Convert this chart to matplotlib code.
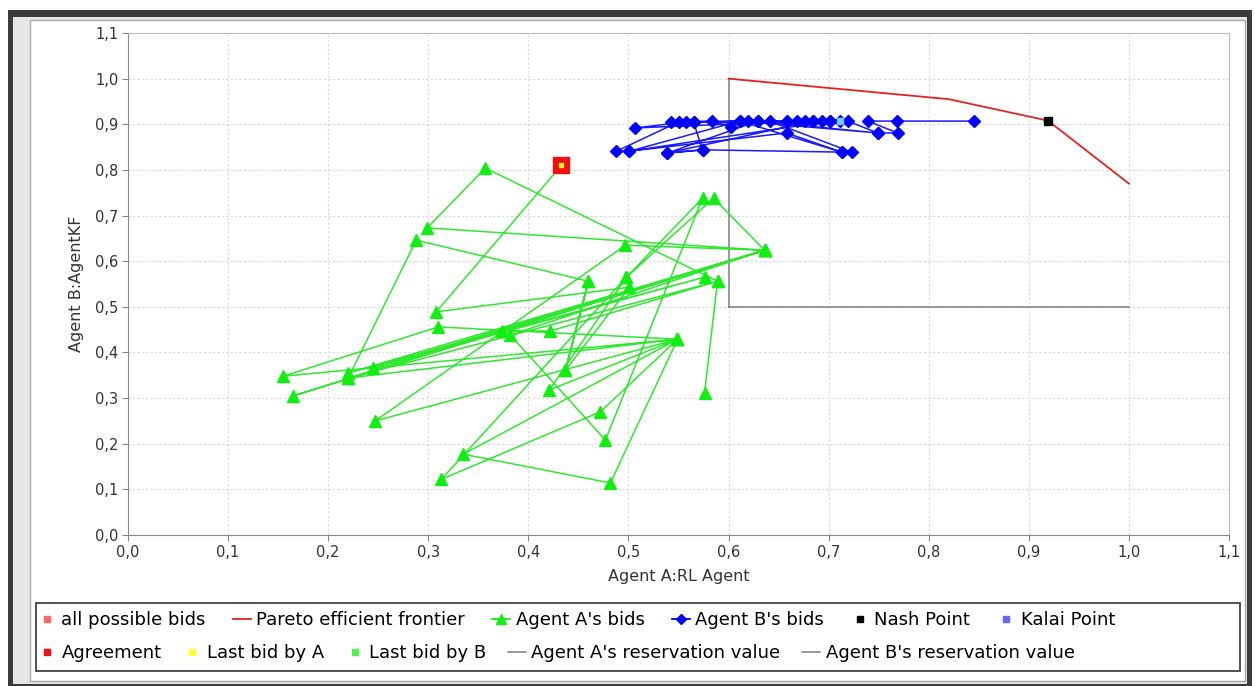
import matplotlib.pyplot as plt
from matplotlib.lines import Line2D
from matplotlib.patches import Rectangle
from matplotlib.ticker import FixedLocator, FixedFormatter

W, H = 1255, 686

# Agent A's bids (in order of the offers)
a_x = [0.576, 0.589, 0.357, 0.299, 0.636, 0.220, 0.576, 0.245, 0.636, 0.497,
       0.247, 0.549, 0.310, 0.155, 0.549, 0.335, 0.482, 0.549, 0.472, 0.313,
       0.498, 0.585, 0.636, 0.374, 0.422, 0.589, 0.220, 0.636, 0.165, 0.636,
       0.382, 0.477, 0.574, 0.498, 0.421, 0.549, 0.220, 0.288, 0.460, 0.437,
       0.460, 0.437, 0.501, 0.308, 0.433]
a_y = [0.311, 0.556, 0.804, 0.673, 0.624, 0.355, 0.565, 0.366, 0.624, 0.635,
       0.250, 0.429, 0.456, 0.348, 0.429, 0.177, 0.114, 0.429, 0.270, 0.122,
       0.565, 0.738, 0.624, 0.447, 0.447, 0.556, 0.344, 0.624, 0.305, 0.624,
       0.438, 0.208, 0.738, 0.565, 0.318, 0.429, 0.344, 0.646, 0.556, 0.361,
       0.556, 0.361, 0.543, 0.489, 0.810]

# Agent B's bids
b_x = [0.845, 0.768, 0.739, 0.769, 0.749, 0.719, 0.711, 0.701, 0.693, 0.684,
       0.557, 0.507, 0.676, 0.668, 0.550, 0.488, 0.501, 0.658, 0.713, 0.723,
       0.641, 0.629, 0.619, 0.565, 0.574, 0.539, 0.574, 0.713, 0.611, 0.602,
       0.583, 0.543, 0.658, 0.701, 0.501, 0.611, 0.749, 0.629, 0.539, 0.684,
       0.565]
b_y = [0.907, 0.907, 0.907, 0.881, 0.881, 0.907, 0.907, 0.907, 0.907, 0.907,
       0.905, 0.892, 0.907, 0.907, 0.905, 0.841, 0.841, 0.881, 0.839, 0.839,
       0.907, 0.907, 0.907, 0.905, 0.844, 0.837, 0.844, 0.839, 0.907, 0.894,
       0.907, 0.905, 0.907, 0.907, 0.841, 0.907, 0.881, 0.907, 0.837, 0.907,
       0.905]

pareto_x = [0.600, 0.820, 0.919, 1.000]
pareto_y = [1.000, 0.955, 0.908, 0.770]

nash = (0.919, 0.908)
kalai = (0.711, 0.908)
agreement = (0.433, 0.810)
res_a = 0.6
res_b = 0.5

ticks = [0.0, 0.1, 0.2, 0.3, 0.4, 0.5, 0.6, 0.7, 0.8, 0.9, 1.0, 1.1]
tick_labels = ["0,0", "0,1", "0,2", "0,3", "0,4", "0,5", "0,6", "0,7", "0,8", "0,9", "1,0", "1,1"]


def fx(px):
    return px / W


def fy(py):
    return 1 - py / H


fig = plt.figure(figsize=(W / 100, H / 100), dpi=100)
fig.patch.set_facecolor("white")

# window frame
fig.patches.append(Rectangle((fx(8), fy(686)), fx(1244), 676 / H, transform=fig.transFigure,
                             facecolor="#3b3b3b", edgecolor="none", zorder=-3))
fig.patches.append(Rectangle((fx(13), fy(684)), fx(1234), 667 / H, transform=fig.transFigure,
                             facecolor="#e6e6e6", edgecolor="none", zorder=-2))
fig.patches.append(Rectangle((fx(30), fy(681)), fx(1215), 661 / H, transform=fig.transFigure,
                             facecolor="white", edgecolor="#a8a8a8", linewidth=1, zorder=-1))

ax = fig.add_axes([fx(128), fy(535), fx(1229 - 128), (535 - 33) / H])
ax.set_xlim(0, 1.1)
ax.set_ylim(0, 1.1)

ax.grid(True, color="#d8d8d8", linestyle=(0, (2, 2)), linewidth=0.8)
ax.set_axisbelow(True)

# reservation values
ax.plot([res_a, res_a], [res_b, 1.0], color="#808080", linewidth=1.1, zorder=2)
ax.plot([res_a, 1.0], [res_b, res_b], color="#808080", linewidth=1.1, zorder=2)

ax.plot(pareto_x, pareto_y, color="#e52222", linewidth=1.3, zorder=3)

ax.plot(a_x, a_y, color="#2ee82e", linewidth=1.1, marker="^", markersize=8,
        markerfacecolor="#11ee11", markeredgecolor="#11ee11", zorder=4)
ax.plot(b_x, b_y, color="#1a1aff", linewidth=1.1, marker="D", markersize=6,
        markerfacecolor="#0000ff", markeredgecolor="#0000ff", zorder=5)

ax.plot(*nash, marker="s", markersize=6, color="black", linestyle="none", zorder=6)
ax.plot(*kalai, marker="s", markersize=4, color="#74cdf5", linestyle="none", zorder=6)
ax.plot(*agreement, marker="s", markersize=11, color="#ee1111", linestyle="none", zorder=6)
ax.plot(*agreement, marker="s", markersize=3.5, color="#ffee33", linestyle="none", zorder=7)

ax.xaxis.set_major_locator(FixedLocator(ticks))
ax.xaxis.set_major_formatter(FixedFormatter(tick_labels))
ax.yaxis.set_major_locator(FixedLocator(ticks))
ax.yaxis.set_major_formatter(FixedFormatter(tick_labels))
ax.tick_params(labelsize=10.5, colors="#333333", length=4, color="#888888", pad=3)
for s in ["left", "bottom"]:
    ax.spines[s].set_color("#888888")
for s in ["top", "right"]:
    ax.spines[s].set_color("#b8b8b8")

ax.set_xlabel("Agent A:RL Agent", fontsize=11.5, color="#333333", labelpad=7)
ax.set_ylabel("Agent B:AgentKF", fontsize=11.5, color="#333333", labelpad=8)

# legend
row1 = [
    (Line2D([], [], marker="s", linestyle="none", color="#ff6666", markersize=5), "all possible bids"),
    (Line2D([], [], color="#e52222", linewidth=1.3), "Pareto efficient frontier"),
    (Line2D([], [], color="#11ee11", linewidth=1.3, marker="^", markersize=7), "Agent A's bids"),
    (Line2D([], [], color="#0000ff", linewidth=1.3, marker="D", markersize=5), "Agent B's bids"),
    (Line2D([], [], marker="s", linestyle="none", color="black", markersize=5), "Nash Point"),
    (Line2D([], [], marker="s", linestyle="none", color="#6666ff", markersize=5), "Kalai Point"),
]
row2 = [
    (Line2D([], [], marker="s", linestyle="none", color="#ee1111", markersize=5), "Agreement"),
    (Line2D([], [], marker="s", linestyle="none", color="#ffff33", markersize=5), "Last bid by A"),
    (Line2D([], [], marker="s", linestyle="none", color="#55ee55", markersize=5), "Last bid by B"),
    (Line2D([], [], color="#808080", linewidth=1.1), "Agent A's reservation value"),
    (Line2D([], [], color="#808080", linewidth=1.1), "Agent B's reservation value"),
]
for row, ypx, cs in [(row1, 620, 1.5), (row2, 653, 1.2)]:
    fig.legend([h for h, _ in row], [l for _, l in row], loc="center left",
               bbox_to_anchor=(fx(38), fy(ypx)), ncol=len(row), frameon=False,
               fontsize=13, handlelength=1.0, handletextpad=0.3, columnspacing=cs,
               borderpad=0, borderaxespad=0)

fig.patches.append(Rectangle((fx(36), fy(671)), fx(1240 - 36), (671 - 603) / H, transform=fig.transFigure,
                             facecolor="none", edgecolor="#333333", linewidth=1.2, zorder=5))

fig.savefig("out.png", dpi=100)
